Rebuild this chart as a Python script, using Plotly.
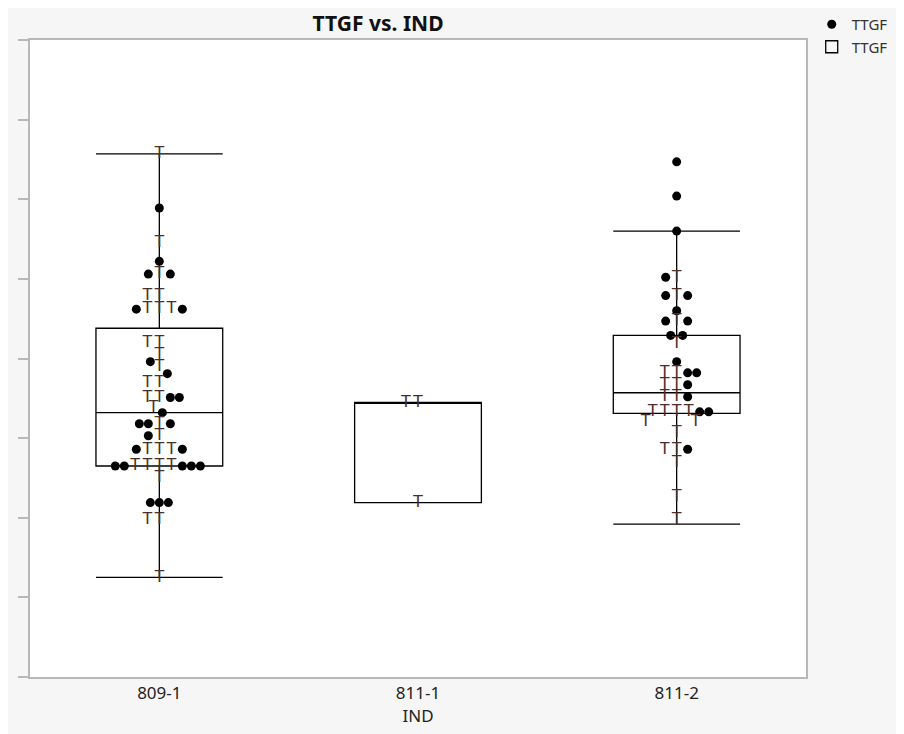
import plotly.graph_objects as go

# Categories and box summaries (y units are arbitrary, axis has no labels)
categories = ['809-1', '811-1', '811-2']
lower = [12.5, 21.9, 19.2]
q1 = [26.5, 21.9, 33.1]
median = [33.2, 34.5, 35.7]
q3 = [43.8, 34.5, 42.9]
upper = [65.7, 34.5, 56.0]

# Observed TTGF values (dots)
obs_809_1 = [58.9, 52.2, 50.6, 50.6, 46.2, 46.2, 39.6, 38.1, 35.1, 35.1, 33.2,
             31.8, 31.8, 31.8, 30.3, 28.6, 28.6, 26.5, 26.5, 26.5, 26.5, 26.5,
             21.9, 21.9, 21.9]
obs_811_1 = []
obs_811_2 = [64.7, 60.4, 56.0, 50.2, 47.9, 47.9, 46.0, 44.7, 44.7, 42.9, 42.9,
             39.6, 38.2, 38.2, 36.7, 35.2, 33.3, 33.3, 28.6]

# Censored TTGF values (drawn as "T")
cens_809_1 = [65.7, 54.6, 50.6, 47.9, 47.9, 46.2, 46.2, 46.2, 42.0, 42.0, 40.5,
              39.0, 37.0, 37.0, 35.1, 35.1, 33.8, 31.8, 30.3, 28.6, 28.6, 28.6,
              26.5, 26.5, 26.5, 26.5, 25.0, 19.7, 19.7, 12.5]
cens_811_1 = [34.5, 34.5, 21.9]
cens_811_2 = [50.2, 47.9, 44.7, 41.8, 38.2, 38.2, 36.7, 36.7, 35.2, 35.2, 33.3,
              33.3, 33.3, 33.3, 32.1, 32.1, 30.7, 28.6, 28.6, 26.9, 22.6, 19.7]

obs = [obs_809_1, obs_811_1, obs_811_2]
cens = [cens_809_1, cens_811_1, cens_811_2]

# simple beeswarm so overlapping points sit side by side
PX_X = 258.5   # px per category
PX_Y = 7.95    # px per y unit
RADIUS = {'t': 5.9, 'd': 4.2}


def swarm(t_vals, d_vals):
    placed = []
    res = {'t': [], 'd': []}
    for kind, vals in (('t', sorted(t_vals, reverse=True)), ('d', sorted(d_vals, reverse=True))):
        r = RADIUS[kind]
        for y in vals:
            for i in range(0, 200):
                off = (i + 1) // 2 * (-1 if i % 2 else 1)
                ok = all((off - px) ** 2 + ((y - py) * PX_Y) ** 2 >= (r + pr) ** 2
                         for px, py, pr in placed)
                if ok:
                    break
            placed.append((off, y, r))
            res[kind].append((off / PX_X, y))
    return res['t'], res['d']


dot_x, dot_y, t_x, t_y = [], [], [], []
for i in range(len(categories)):
    rt, rd = swarm(cens[i], obs[i])
    for dx, y in rd:
        dot_x.append(i + dx)
        dot_y.append(y)
    for dx, y in rt:
        t_x.append(i + dx)
        t_y.append(y)

fig = go.Figure()

fig.add_trace(go.Scatter(
    x=dot_x, y=dot_y, mode='markers', name='TTGF',
    marker=dict(color='black', size=9, line=dict(width=0)),
))

fig.add_trace(go.Box(
    x=[0, 1, 2], q1=q1, median=median, q3=q3,
    lowerfence=lower, upperfence=upper,
    name='TTGF', width=0.49, whiskerwidth=1,
    fillcolor='rgba(255,255,255,0)',
    line=dict(color='black', width=1.3),
    boxpoints=False,
))

fig.add_trace(go.Scatter(
    x=t_x, y=t_y, mode='text', text=['T'] * len(t_x),
    textposition='middle center',
    textfont=dict(family='Liberation Sans', size=17, color='#4b2e2a'),
    showlegend=False, hoverinfo='y',
))

# page body adds an 8px margin, so the figure is a bit smaller than the window
fig.update_layout(
    width=896, height=726,
    margin=dict(l=22, r=98, t=32, b=57, autoexpand=False),
    paper_bgcolor='#f6f6f6',
    plot_bgcolor='white',
    font=dict(family='Noto Sans', size=17, color='#222222'),
    title=dict(text='<b>TTGF vs. IND</b>', x=0.413, xanchor='center',
               y=0.979, yanchor='middle', font=dict(size=21, color='#111111')),
    showlegend=True,
    legend=dict(xref='container', yref='container', x=0.897, y=1.004,
                xanchor='left', yanchor='top', bgcolor='rgba(0,0,0,0)',
                font=dict(size=15, color='#333333'), tracegroupgap=0),
    xaxis=dict(
        range=[-0.5, 2.5], tickvals=[0, 1, 2], ticktext=categories,
        showgrid=False, zeroline=False, ticks='',
        showline=True, linecolor='#b8b8b8', linewidth=1.5, mirror=True,
        title=dict(text='IND', font=dict(size=17), standoff=0),
    ),
    yaxis=dict(
        range=[0, 80], tickvals=list(range(0, 81, 10)),
        showticklabels=False, showgrid=False, zeroline=False,
        ticks='outside', ticklen=10, tickcolor='#b8b8b8', tickwidth=1.5,
        showline=True, linecolor='#b8b8b8', linewidth=2, mirror=True,
    ),
)

fig.write_html("out.html")
